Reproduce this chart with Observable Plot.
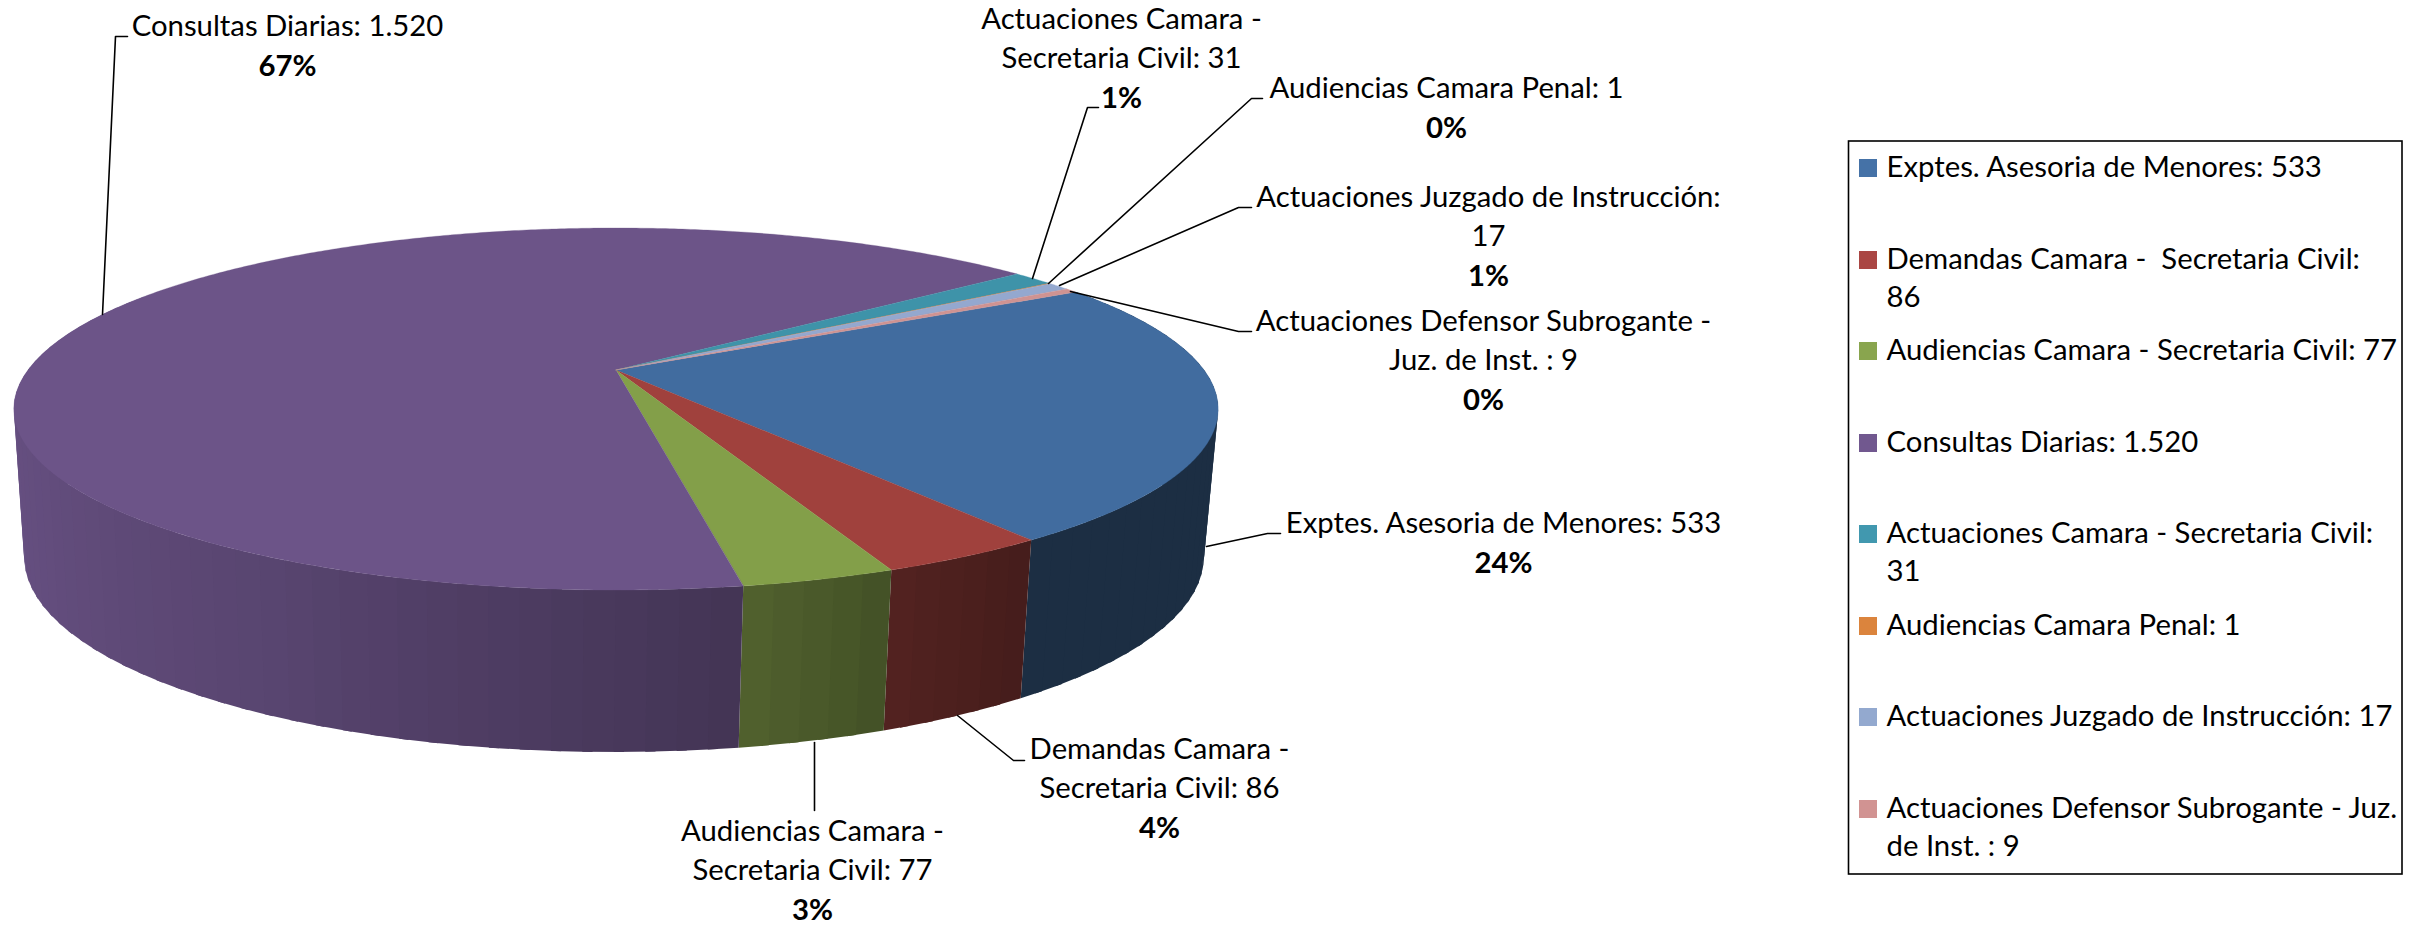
<!DOCTYPE html>
<html><head><meta charset="utf-8">
<script src="https://cdn.jsdelivr.net/npm/d3@7"></script>
<script src="https://cdn.jsdelivr.net/npm/@observablehq/plot@0.6"></script>
<style>html,body{margin:0;padding:0;background:#fff;overflow:hidden}svg{display:block;max-width:none!important}</style>
</head><body><div id="chart"></div>
<script>
const categories = ["Exptes. Asesoria de Menores","Demandas Camara -  Secretaria Civil","Audiencias Camara - Secretaria Civil","Consultas Diarias","Actuaciones Camara - Secretaria Civil","Audiencias Camara Penal","Actuaciones Juzgado de Instrucción","Actuaciones Defensor Subrogante - Juz. de Inst. "];
const values = [533,86,77,1520,31,1,17,9];
const valueLabels = ["533","86","77","1.520","31","1","17","9"];
const percents = ["24%","4%","3%","67%","1%","0%","1%","0%"];
const legendColors = ["#4572A7","#AA4643","#89A54E","#71588F","#4198AF","#DB843D","#93A9CF","#D19392"];
const topColors = ["#416c9f","#a0413d","#839f49","#6c5488","#3e93a9","#d07d3a","#94a8cf","#cf9392"];

// data label lines (text) per category
const labelLines = [
  ["Exptes. Asesoria de Menores: 533"],
  ["Demandas Camara -","Secretaria Civil: 86"],
  ["Audiencias Camara -","Secretaria Civil: 77"],
  ["Consultas Diarias: 1.520"],
  ["Actuaciones Camara -","Secretaria Civil: 31"],
  ["Audiencias Camara Penal: 1"],
  ["Actuaciones Juzgado de Instrucción:","17"],
  ["Actuaciones Defensor Subrogante -","Juz. de Inst. : 9"]
];
const legendLines = [
  ["Exptes. Asesoria de Menores: 533"],
  ["Demandas Camara -  Secretaria Civil:","86"],
  ["Audiencias Camara - Secretaria Civil: 77"],
  ["Consultas Diarias: 1.520"],
  ["Actuaciones Camara - Secretaria Civil:","31"],
  ["Audiencias Camara Penal: 1"],
  ["Actuaciones Juzgado de Instrucción: 17"],
  ["Actuaciones Defensor Subrogante - Juz.","de Inst. : 9"]
];

// layout (separate from the data)
const W = 2416, H = 925;
const top3d = {cx:616, cy:370, R:588, k:172.6, p:0.2155};
const bot3d = {cx:614, cy:515, R:576, k:186, p:0.2155};
const startT = 120.0;
const frontT = 9.7;
const labelAnchors = [[1503,523],[1159,749],[812,831],[287,26],[1121,19],[1446,88],[1488,197],[1483,321]];
const lineGap = 39;
const leaders = [
  [[1206,546],[1267,533],[1280,533]],
  [[957,715],[1013,760],[1024,760]],
  [[814,742],[814,810]],
  [[127,36],[115,36],[102,314]],
  [[1098,107],[1087,107],[1032,278]],
  [[1262,98],[1251,98],[1048,283]],
  [[1251,207],[1238,207],[1059,285]],
  [[1251,331],[1238,331],[1070,291]]
];
const legendBox = {x1:1848.5, x2:2402, y1:141, y2:874};
const legendRowY = [167,259,350,442,533,625,716,808];
const legendGap = 38.5;

function project(m, tDeg){
  const t = tDeg*Math.PI/180, u = Math.sin(t), v = Math.cos(t), s = 1/(1-m.p*v);
  return [m.cx + m.R*u*s, m.cy + m.k*v*s];
}
const total = d3.sum(values);
let cursor = startT;
const slices = values.map((v,i)=>{
  const a0 = cursor; cursor -= v/total*360;
  return {i, a0, a1: cursor};
});
const step = 0.5;
// shading of the side wall along the angle
const shade = d3.scaleLinear().domain([-120,-100,-60,-30,0,9.7,21.9,35.5,120]).range([1,1,.93,.84,.68,.63,.52,.43,.42]).clamp(true);
const topFan = [];
for (const s of slices){
  const n = Math.max(2, Math.ceil((s.a0-s.a1)/step));
  for (let j=0;j<=n;j++){
    const [x,y] = project(top3d, s.a0 + (s.a1-s.a0)*j/n);
    topFan.push({x1:top3d.cx,y1:top3d.cy,x2:x,y2:y,z:s.i,fill:topColors[s.i]});
  }
}
// wall bands, painted from the back of the pie towards the front
const bands = [];
const bandW = 2.5;
for (const s of slices){
  const hi = Math.min(s.a0, 125), lo = Math.max(s.a1, -118);
  if (hi<=lo) continue;
  const n = Math.max(1, Math.ceil((hi-lo)/bandW));
  const w = (hi-lo)/n, over = Math.min(0.8, w*0.4);
  for (let j=0;j<n;j++){
    const ta = hi-w*j, tb = hi-w*(j+1), mid = (ta+tb)/2;
    const c = d3.rgb(legendColors[s.i]), f = shade(mid);
    const col = d3.rgb(c.r*f*.94,c.g*f*.94,c.b*f*.94).formatHex();
    // each band reaches a little under its frontward neighbour in the same slice
    const from = mid<frontT && j>0 ? ta+over : ta;
    const to = mid>=frontT && j<n-1 ? tb-over : tb;
    bands.push({mid,col,ts:[from,to]});
  }
}
bands.sort((a,b)=>Math.abs(b.mid-frontT)-Math.abs(a.mid-frontT));
const sides = bands.flatMap((b,z)=>b.ts.map(t=>{
  const p = project(top3d,t), q = project(bot3d,t);
  return {x1:p[0],y1:p[1],x2:q[0],y2:q[1],z,fill:b.col};
}));
const leaderRows = leaders.flatMap((pts,i)=>pts.map(([x,y])=>({x,y,z:i})));
const labelRows = [], pctRows = [];
labelLines.forEach((lines,i)=>{
  const [x,y] = labelAnchors[i];
  lines.forEach((t,j)=>labelRows.push({x,y:y+j*lineGap,t}));
  pctRows.push({x,y:y+lines.length*lineGap+1,t:percents[i]});
});
const legText = [];
legendLines.forEach((lines,i)=>lines.forEach((t,j)=>legText.push({x:1886,y:legendRowY[i]+j*legendGap,t})));
const swatches = legendColors.map((c,i)=>({x1:1859,x2:1877,y1:legendRowY[i]-8,y2:legendRowY[i]+10,fill:c}));
const font = {fontFamily:"Lato, Carlito, sans-serif", fontSize:29.3, fill:"#000", lineAnchor:"middle"};

const chart = Plot.plot({
  width:W, height:H, margin:0,
  x:{domain:[0,W], range:[0,W], axis:null},
  y:{domain:[0,H], range:[0,H], axis:null},
  color:{type:"identity"},
  marks:[
    Plot.area(sides,{x1:"x1",y1:"y1",x2:"x2",y2:"y2",z:"z",fill:"fill"}),
    Plot.area(topFan,{x1:"x1",y1:"y1",x2:"x2",y2:"y2",z:"z",fill:"fill",stroke:"fill",strokeWidth:0.3}),
    Plot.line(leaderRows,{x:"x",y:"y",z:"z",stroke:"#000",strokeWidth:1.6,curve:"linear"}),
    Plot.text(labelRows,{x:"x",y:"y",text:"t",textAnchor:"middle",...font}),
    Plot.text(pctRows,{x:"x",y:"y",text:"t",textAnchor:"middle",fontWeight:"bold",...font}),
    Plot.rect([legendBox],{x1:"x1",x2:"x2",y1:"y1",y2:"y2",fill:"none",stroke:"#000",strokeWidth:1.6}),
    Plot.rect(swatches,{x1:"x1",x2:"x2",y1:"y1",y2:"y2",fill:"fill"}),
    Plot.text(legText,{x:"x",y:"y",text:"t",textAnchor:"start",...font})
  ]
});
document.getElementById("chart").append(chart);
</script></body></html>
